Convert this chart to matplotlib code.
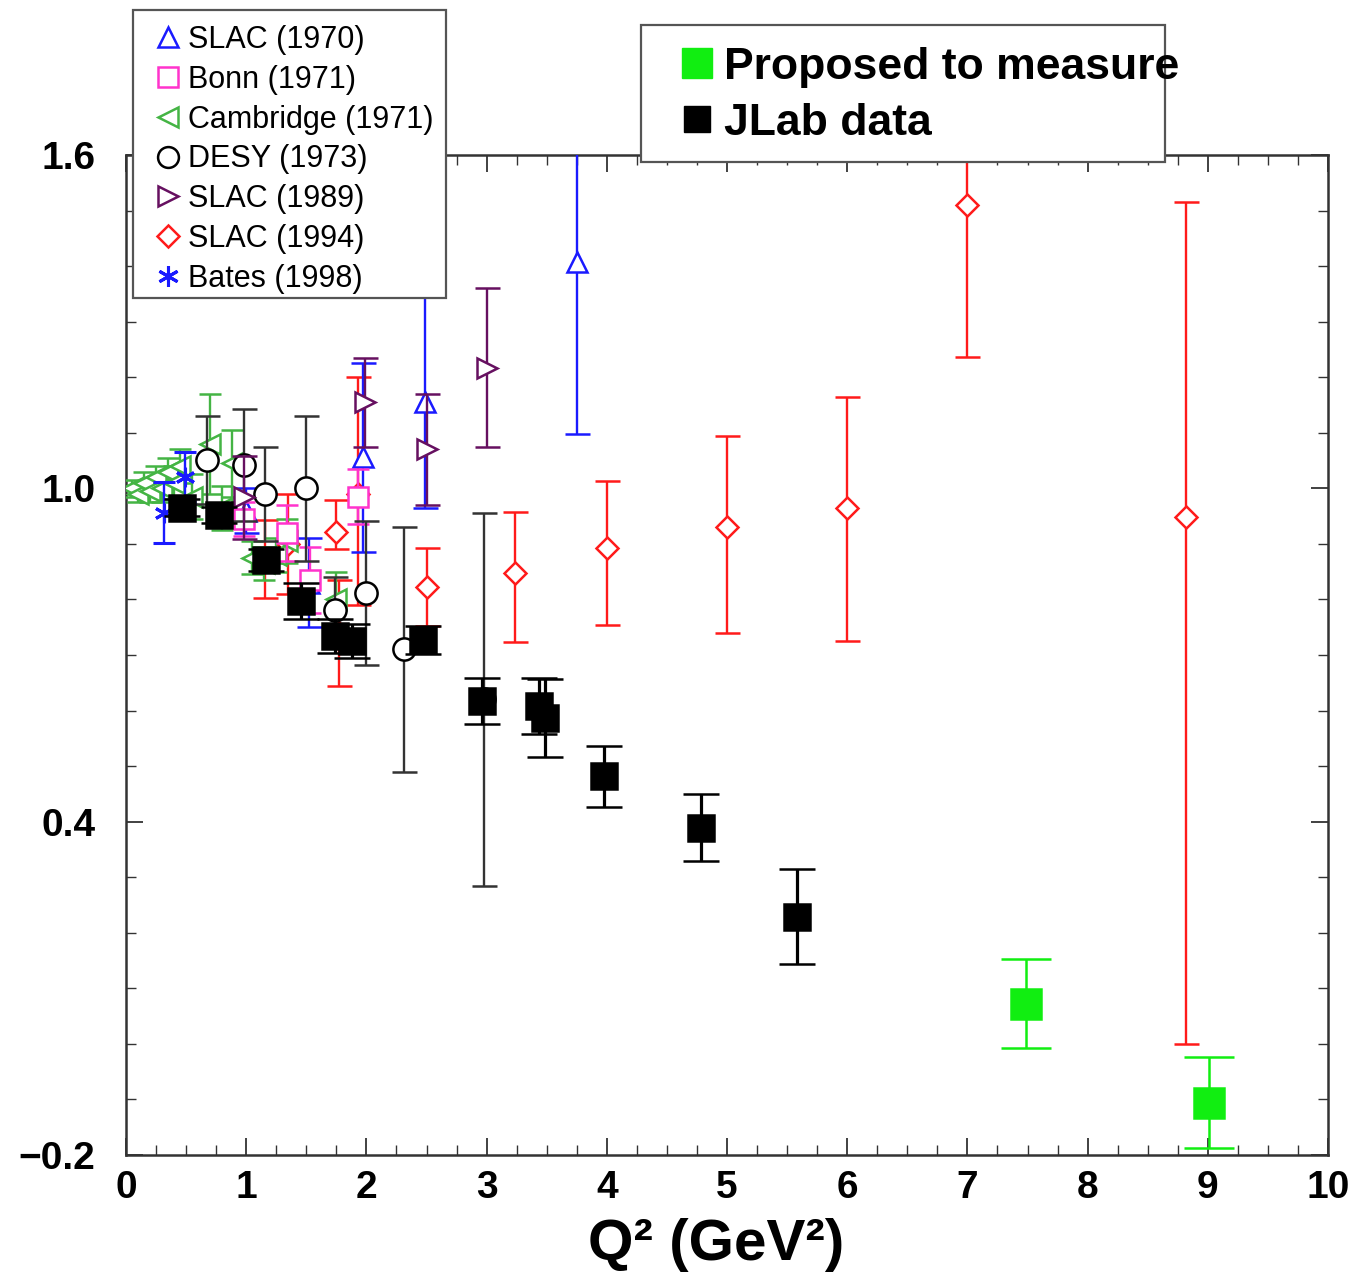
import matplotlib
matplotlib.use("Agg")
import matplotlib.pyplot as plt
from matplotlib.lines import Line2D
from matplotlib.patches import Rectangle
import numpy as np

plt.rcParams['font.family'] = ['Liberation Sans', 'DejaVu Sans']

# ---------------- data ----------------
slac70_q2 = [1.00, 1.52, 1.97, 2.49, 3.75]
slac70_r = [0.960, 0.830, 1.056, 1.155, 1.407]
slac70_e = [0.04, 0.08, 0.17, 0.19, 0.31]

bonn_q2 = [0.98, 1.34, 1.53, 1.93]
bonn_r = [0.945, 0.920, 0.835, 0.985]
bonn_e = [0.03, 0.05, 0.06, 0.05]

camb_q2 = [0.05, 0.10, 0.15, 0.20, 0.25, 0.30, 0.35, 0.40, 0.45, 0.55,
           0.70, 0.80, 0.88, 1.05, 1.15, 1.25, 1.34, 1.75]
camb_r = [1.000, 0.990, 1.010, 0.995, 1.020, 1.000, 1.030, 1.010, 1.040, 0.985,
          1.080, 0.965, 1.045, 0.875, 0.865, 0.880, 0.905, 0.800]
camb_e = [0.015, 0.015, 0.02, 0.02, 0.02, 0.025, 0.025, 0.03, 0.03, 0.04,
          0.09, 0.04, 0.06, 0.03, 0.03, 0.03, 0.04, 0.05]

desy_q2 = [0.67, 0.98, 1.16, 1.50, 1.74, 2.00, 2.31, 2.98]
desy_r = [1.051, 1.042, 0.990, 1.000, 0.781, 0.812, 0.710, 0.620]
desy_e = [0.08, 0.10, 0.085, 0.13, 0.06, 0.13, 0.22, 0.335]

slac89_q2 = [0.98, 1.99, 2.50, 3.00]
slac89_r = [0.984, 1.155, 1.070, 1.217]
slac89_e = [0.075, 0.08, 0.10, 0.143]

slac94_q2 = [1.16, 1.35, 1.75, 1.77, 1.93, 2.50, 3.24, 4.00, 5.00, 6.00, 7.00, 8.82]
slac94_r = [0.873, 0.900, 0.921, 0.740, 0.990, 0.822, 0.848, 0.893, 0.930, 0.965, 1.510, 0.948]
slac94_elo = [0.07, 0.09, 0.03, 0.095, 0.20, 0.07, 0.125, 0.139, 0.19, 0.24, 0.274, 0.948]
slac94_ehi = [0.07, 0.09, 0.058, 0.095, 0.21, 0.071, 0.109, 0.12, 0.164, 0.20, 0.27, 0.567]

bates_q2 = [0.32, 0.49]
bates_r = [0.956, 1.020]
bates_e = [0.055, 0.045]

jlab_q2 = [0.47, 0.77, 1.165, 1.46, 1.74, 1.88, 2.47, 2.96, 3.44, 3.49, 3.98, 4.78, 5.58]
jlab_r = [0.965, 0.952, 0.871, 0.797, 0.734, 0.725, 0.727, 0.617, 0.608, 0.587, 0.482, 0.389, 0.229]
jlab_e = [0.015, 0.015, 0.02, 0.032, 0.03, 0.03, 0.026, 0.042, 0.05, 0.07, 0.055, 0.06, 0.085]

prop_q2 = [7.49, 9.01]
prop_r = [0.072, -0.106]
prop_e = [0.08, 0.082]

legend1_labels = ['SLAC (1970)', 'Bonn (1971)', 'Cambridge (1971)', 'DESY (1973)',
                  'SLAC (1989)', 'SLAC (1994)', 'Bates (1998)']
legend2_labels = ['Proposed to measure', 'JLab data']

xticks = [0, 1, 2, 3, 4, 5, 6, 7, 8, 9, 10]
yticks = [-0.2, 0.4, 1.0, 1.6]
ytick_labels = ['\u22120.2', '0.4', '1.0', '1.6']

# ---------------- colours ----------------
c_slac70 = '#1a1aff'
c_bonn = '#ff33cc'
c_camb = '#44b444'
c_desy = '#000000'
c_slac89 = '#661060'
c_slac94 = '#ff1a1a'
c_bates = '#1a1aff'
c_jlab = '#000000'
c_prop = '#11ee11'

ASTER = (6, 2, 0)

W, H = 1356, 1276
fig = plt.figure(figsize=(W / 100, H / 100), dpi=100)
ax = fig.add_axes([126 / W, 1 - 1155 / H, (1328 - 126) / W, (1155 - 155) / H])
ax.set_xlim(0, 10)
ax.set_ylim(-0.2, 1.6)

def eb(x, y, e, color, marker, ms, cap, lw=1.7, mfc='white', mew=1.8, z=2, ecolor=None):
    ax.errorbar(x, y, yerr=e, fmt='', linestyle='none', marker=marker, color=color,
                ecolor=ecolor or color, ms=ms, mfc=mfc, mec=color, mew=mew,
                elinewidth=lw, capsize=cap, capthick=lw, zorder=z, clip_on=True)

eb(slac94_q2, slac94_r, [slac94_elo, slac94_ehi], c_slac94, 'D', 11, 9, z=2)
eb(camb_q2, camb_r, camb_e, c_camb, '<', 15, 8, z=3)
eb(slac70_q2, slac70_r, slac70_e, c_slac70, '^', 15, 9, z=3.2)
eb(bonn_q2, bonn_r, bonn_e, c_bonn, 's', 14, 8, z=3.4)
eb(desy_q2, desy_r, desy_e, c_desy, 'o', 16, 9, z=3.6, ecolor='#333333')
eb(slac89_q2, slac89_r, slac89_e, c_slac89, '>', 15, 9, z=3.8)
eb(bates_q2, bates_r, bates_e, c_bates, ASTER, 14, 8, mfc=c_bates, mew=2.2, z=4)
eb(jlab_q2, jlab_r, jlab_e, c_jlab, 's', 19, 13, lw=2.3, mfc=c_jlab, z=5)
eb(prop_q2, prop_r, prop_e, c_prop, 's', 21, 18, lw=1.8, mfc=c_prop, z=5)

# ---------------- axes styling ----------------
for s in ax.spines.values():
    s.set_linewidth(1.8)
    s.set_color('#333333')
ax.set_xticks(xticks)
ax.set_xticks(np.arange(0, 10.01, 0.25), minor=True)
ax.set_yticks(yticks)
ax.set_yticklabels(ytick_labels)
ax.set_yticks(np.arange(-0.2, 1.601, 0.1), minor=True)
ax.tick_params(which='both', direction='in', top=True, right=True, color='#333333')
ax.tick_params(which='major', length=12, width=1.3)
ax.tick_params(which='minor', length=7, width=1.0)
ax.tick_params(axis='x', which='major', labelsize=28, pad=11)
ax.tick_params(axis='y', which='major', labelsize=28, pad=22)
for lab in ax.get_xticklabels() + ax.get_yticklabels():
    lab.set_fontweight('bold')
ax.set_xlabel('Q\u00b2 (GeV\u00b2)', fontsize=42, fontweight='bold')
ax.xaxis.set_label_coords(0.491, -0.063)

# ---------------- legend 1 ----------------
fig.patches.append(Rectangle((133 / W, 1 - 298 / H), (446 - 133) / W, (298 - 10) / H,
                             transform=fig.transFigure, facecolor='white',
                             edgecolor='#555555', linewidth=1.6, zorder=4))
h1 = [
    Line2D([], [], ls='none', marker='^', ms=15, mfc='white', mec=c_slac70, mew=1.8),
    Line2D([], [], ls='none', marker='s', ms=14, mfc='white', mec=c_bonn, mew=1.8),
    Line2D([], [], ls='none', marker='<', ms=15, mfc='white', mec=c_camb, mew=1.8),
    Line2D([], [], ls='none', marker='o', ms=15, mfc='white', mec=c_desy, mew=1.8),
    Line2D([], [], ls='none', marker='>', ms=15, mfc='white', mec=c_slac89, mew=1.8),
    Line2D([], [], ls='none', marker='D', ms=11, mfc='white', mec=c_slac94, mew=1.8),
    Line2D([], [], ls='none', marker=ASTER, ms=15, mfc=c_bates, mec=c_bates, mew=2.2),
]
leg1 = fig.legend(h1, legend1_labels, loc='upper left',
                  bbox_to_anchor=(156 / W, 1 - 25 / H), frameon=False,
                  fontsize=22, borderpad=0, borderaxespad=0, handlelength=0.8,
                  handletextpad=0.25, labelspacing=0.32)
leg1.set_zorder(6)

# ---------------- legend 2 ----------------
fig.patches.append(Rectangle((641 / W, 1 - 162 / H), (1165 - 641) / W, (162 - 25) / H,
                             transform=fig.transFigure, facecolor='white',
                             edgecolor='#555555', linewidth=1.6, zorder=4))
h2 = [
    Line2D([], [], ls='none', marker='s', ms=21, mfc=c_prop, mec=c_prop),
    Line2D([], [], ls='none', marker='s', ms=19, mfc=c_jlab, mec=c_jlab),
]
leg2 = fig.legend(h2, legend2_labels, loc='upper left',
                  bbox_to_anchor=(684 / W, 1 - 47 / H), frameon=False,
                  prop={'size': 32, 'weight': 'bold'}, borderpad=0, borderaxespad=0,
                  handlelength=0.6, handletextpad=0.3, labelspacing=0.33)
leg2.set_zorder(6)

fig.savefig('out.png', dpi=100)
